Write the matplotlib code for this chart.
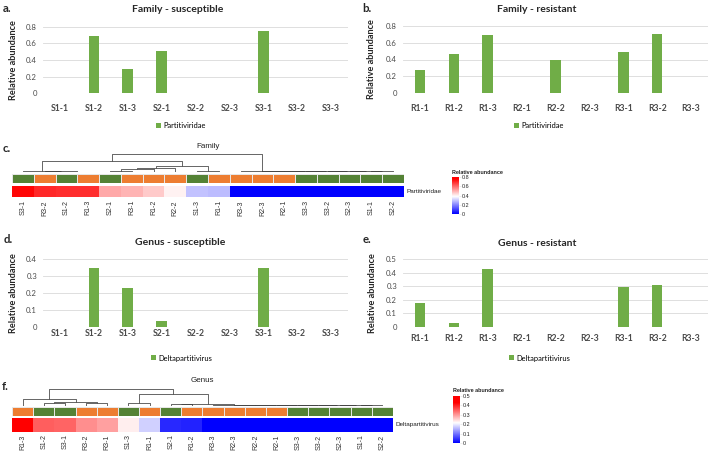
import numpy as np
import matplotlib
matplotlib.use('Agg')
import matplotlib.pyplot as plt
from matplotlib.colors import LinearSegmentedColormap, ListedColormap, Normalize
from matplotlib.ticker import FuncFormatter

W, H = 709, 451

# ---- data ----
sus_samples = ['S1-1', 'S1-2', 'S1-3', 'S2-1', 'S2-2', 'S2-3', 'S3-1', 'S3-2', 'S3-3']
res_samples = ['R1-1', 'R1-2', 'R1-3', 'R2-1', 'R2-2', 'R2-3', 'R3-1', 'R3-2', 'R3-3']

family_sus = [0, 0.69, 0.29, 0.51, 0, 0, 0.75, 0, 0]
family_res = [0.28, 0.46, 0.69, 0, 0.40, 0, 0.49, 0.70, 0]
genus_sus = [0, 0.35, 0.23, 0.035, 0, 0, 0.345, 0, 0]
genus_res = [0.175, 0.03, 0.43, 0, 0, 0, 0.295, 0.31, 0]

family_order = ['S3-1', 'R3-2', 'S1-2', 'R1-3', 'S2-1', 'R3-1', 'R1-2', 'R2-2', 'S1-3',
                'R1-1', 'R3-3', 'R2-3', 'R2-1', 'S3-3', 'S3-2', 'S2-3', 'S1-1', 'S2-2']
genus_order = ['R1-3', 'S1-2', 'S3-1', 'R3-2', 'R3-1', 'S1-3', 'R1-1', 'S2-1', 'R1-2',
               'R3-3', 'R2-3', 'R2-2', 'R2-1', 'S3-3', 'S3-2', 'S2-3', 'S1-1', 'S2-2']

# dendrogram merges (node a, node b, relative height); new node ids start at 18
family_merges = [(2, 3, 0.03), (1, 18, 0.05), (0, 19, 0.09), (4, 5, 0.09), (21, 6, 0.16),
                 (22, 7, 0.25), (8, 9, 0.07), (23, 24, 0.37), (20, 25, 0.64),
                 (16, 17, 0.07), (15, 27, 0.07), (14, 28, 0.07), (13, 29, 0.07),
                 (12, 30, 0.07), (11, 31, 0.07), (10, 32, 0.07), (26, 33, 1.0)]
genus_merges = [(1, 2, 0.13), (3, 4, 0.13), (18, 19, 0.19), (0, 20, 0.37), (5, 6, 0.17),
                (7, 8, 0.08), (16, 17, 0.04), (15, 24, 0.04), (14, 25, 0.04), (13, 26, 0.04),
                (12, 27, 0.04), (11, 28, 0.04), (10, 29, 0.04), (9, 30, 0.04),
                (23, 31, 0.08), (22, 32, 0.67), (21, 33, 1.0)]

BAR_GREEN = '#70ad47'
GRP_GREEN = '#548235'
GRP_ORANGE = '#ed7d31'
GREY = '#4a4a4a'
heat_cmap = LinearSegmentedColormap.from_list('bwr2', ['#0000ff', '#ffffff', '#ff0000'])

fig = plt.figure(figsize=(W / 100, H / 100), dpi=100)


def px_axes(x0, y0, x1, y1):
    return fig.add_axes([x0 / W, 1 - y1 / H, (x1 - x0) / W, (y1 - y0) / H])


def fig_text(x, y, s, **kw):
    fig.text(x / W, 1 - y / H, s, **kw)


def bar_panel(box, labels, values, ymax, step, series, title, title_xy, letter, letter_xy,
              legend_xy, xpad, ylabel_x):
    ax = px_axes(*box)
    x = np.arange(len(labels))
    ax.bar(x, values, width=0.31, color=BAR_GREEN, label=series, zorder=3)
    ax.set_xlim(-0.5, len(labels) - 0.5)
    ax.set_ylim(0, ymax)
    ax.set_yticks(np.arange(0, ymax + step / 2, step))
    ax.yaxis.set_major_formatter(FuncFormatter(lambda v, p: '{:g}'.format(round(v, 2))))
    ax.grid(axis='y', color='#d9d9d9', lw=0.6, zorder=0)
    ax.set_axisbelow(True)
    for s in ax.spines.values():
        s.set_visible(False)
    ax.set_xticks(x)
    ax.set_xticklabels(labels, fontfamily='Lato', fontweight='bold', fontsize=6.2, color=GREY)
    ax.tick_params(axis='x', length=0, pad=xpad)
    ax.tick_params(axis='y', length=0, pad=4.3, labelsize=5.6, labelcolor=GREY)
    for t in ax.get_yticklabels():
        t.set_fontfamily('Lato')
    ax.set_ylabel('Relative abundance', fontfamily='Lato', fontweight='bold', fontsize=6.6,
                  color='#262626')
    ax.yaxis.set_label_coords((ylabel_x - box[0]) / (box[2] - box[0]), 0.5)
    fig_text(*title_xy, title, ha='center', va='center', fontfamily='Lato',
             fontweight='bold', fontsize=7.5, color='#262626')
    fig_text(*letter_xy, letter, ha='left', va='center', fontfamily='Lato',
             fontweight='bold', fontsize=8.2, color='#262626')
    ax.legend(loc='center', bbox_to_anchor=(legend_xy[0] / W, 1 - legend_xy[1] / H),
              bbox_transform=fig.transFigure, frameon=False,
              handlelength=0.6, handleheight=0.6, handletextpad=0.4,
              prop={'family': 'Lato', 'size': 5.4})
    return ax


def draw_dendrogram(ax, n, merges):
    pos = [i + 0.5 for i in range(n)]
    hgt = [0.0] * n
    for a, b, h in merges:
        ax.plot([pos[a], pos[a], pos[b], pos[b]], [hgt[a], h, h, hgt[b]],
                color='#3c3c3c', lw=0.55, solid_capstyle='butt')
        pos.append((pos[a] + pos[b]) / 2)
        hgt.append(h)
    ax.set_xlim(0, n)
    ax.set_ylim(0, 1.02)
    ax.axis('off')


def heatmap_panel(x0, x1, dendro_y, annot_y, heat_y, order, lookup, merges, vmax, cb_max,
                  cb_step, cb_box, cb_title_xy, row_label, title, title_xy, letter, letter_xy):
    n = len(order)
    fam = 'Liberation Sans'

    dax = px_axes(x0, dendro_y[0], x1, dendro_y[1])
    draw_dendrogram(dax, n, merges)

    aax = px_axes(x0, annot_y[0], x1, annot_y[1])
    groups = np.array([[0 if s.startswith('S') else 1 for s in order]])
    aax.pcolormesh(np.arange(n + 1), [0, 1], groups,
                   cmap=ListedColormap([GRP_GREEN, GRP_ORANGE]), vmin=0, vmax=1,
                   edgecolors='#e6e6e6', linewidth=0.5)
    aax.set_xlim(0, n)
    aax.axis('off')

    hax = px_axes(x0, heat_y[0], x1, heat_y[1])
    vals = np.array([[lookup[s] for s in order]])
    norm = Normalize(0, vmax)
    hax.pcolormesh(np.arange(n + 1), [0, 1], vals, cmap=heat_cmap, norm=norm)
    hax.set_xlim(0, n)
    hax.set_yticks([])
    hax.set_xticks(np.arange(n) + 0.5)
    hax.set_xticklabels(order, rotation=90, fontfamily=fam, fontsize=5.0, color='#333333')
    hax.tick_params(axis='x', length=0, pad=2)
    for s in hax.spines.values():
        s.set_visible(False)
    hax.text(1.006, 0.5, row_label, transform=hax.transAxes, ha='left', va='center',
             fontfamily=fam, fontsize=4.6, color='#222222')

    cax = px_axes(*cb_box)
    grad = np.linspace(0, cb_max, 200)[:, None]
    cax.imshow(grad, cmap=heat_cmap, norm=norm, aspect='auto', origin='lower',
               extent=(0, 1, 0, cb_max))
    cax.set_xticks([])
    cax.yaxis.tick_right()
    cax.set_yticks(np.arange(0, cb_max + cb_step / 2, cb_step))
    cax.yaxis.set_major_formatter(FuncFormatter(lambda v, p: '{:g}'.format(round(v, 2))))
    cax.tick_params(axis='y', length=1.2, width=0.4, color='#dddddd', pad=0.8,
                    labelsize=3.9, labelcolor='#222222')
    for t in cax.get_yticklabels():
        t.set_fontfamily(fam)
    for s in cax.spines.values():
        s.set_visible(False)
    fig_text(*cb_title_xy, 'Relative abundance', ha='left', va='center', fontfamily=fam,
             fontweight='bold', fontsize=3.9, color='#222222')

    fig_text(*title_xy, title, ha='center', va='center', fontfamily=fam, fontsize=5.8,
             color='#222222')
    fig_text(*letter_xy, letter, ha='left', va='center', fontfamily='Lato',
             fontweight='bold', fontsize=8.2, color='#262626')


family_lookup = dict(zip(sus_samples + res_samples, family_sus + family_res))
genus_lookup = dict(zip(sus_samples + res_samples, genus_sus + genus_res))

# a / b
bar_panel((43, 27, 348, 93), sus_samples, family_sus, 0.8, 0.2, 'Partitiviridae',
          'Family - susceptible', (178, 10), 'a.', (3, 8), (181, 126), 7.6, 18)
bar_panel((403, 26, 708, 93), res_samples, family_res, 0.8, 0.2, 'Partitiviridae',
          'Family - resistant', (537, 10), 'b.', (362, 8), (539, 126), 7.6, 376)

# c
heatmap_panel(12, 404, (154, 172.3), (174, 183.3), (185.7, 197.3), family_order,
              family_lookup, family_merges, 0.76, 0.8, 0.2, (452, 177, 459, 214), (452, 172),
              'Partitiviridae', 'Family', (208, 147), 'c.', (3, 149))

# d / e
bar_panel((43, 259, 348, 327), sus_samples, genus_sus, 0.4, 0.1, 'Deltapartitivirus',
          'Genus - susceptible', (180, 242), 'd.', (4, 240), (182, 358), 1.4, 18)
bar_panel((403, 259, 708, 327), res_samples, genus_res, 0.5, 0.1, 'Deltapartitivirus',
          'Genus - resistant', (537, 243), 'e.', (363, 240), (540, 358), 4.8, 377)

# f
heatmap_panel(12, 393, (388.3, 405.7), (406.7, 415.7), (418, 431.7), genus_order,
              genus_lookup, genus_merges, 0.43, 0.5, 0.1, (453, 396, 460, 443), (453, 391),
              'Deltapartitivirus', 'Genus', (202, 381), 'f.', (2, 386))

fig.savefig('out.png', dpi=100)
